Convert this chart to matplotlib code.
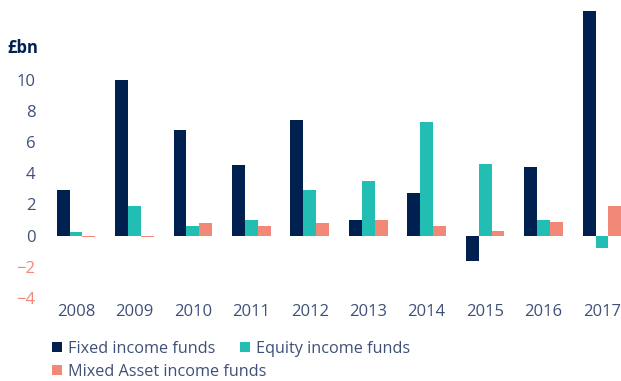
import numpy as np
import matplotlib
matplotlib.use("Agg")
import matplotlib.pyplot as plt

plt.rcParams["font.family"] = ["Open Sans", "DejaVu Sans"]

# Net retail sales of income funds, £bn
years = ["2008", "2009", "2010", "2011", "2012", "2013", "2014", "2015", "2016", "2017"]
fixed_income = [2.9, 10.0, 6.8, 4.5, 7.4, 1.0, 2.7, -1.6, 4.4, 14.4]
equity_income = [0.2, 1.9, 0.6, 1.0, 2.9, 3.5, 7.3, 4.6, 1.0, -0.8]
mixed_asset = [-0.1, -0.1, 0.8, 0.6, 0.8, 1.0, 0.6, 0.3, 0.9, 1.9]

navy = "#002050"
teal = "#22bdb3"
salmon = "#f28877"
text_col = "#3f5078"

fig = plt.figure(figsize=(6.21, 3.81), dpi=100)
ax = fig.add_axes([45 / 621, 1 - 298 / 381, (621 - 45) / 621, 287 / 381])

x = np.arange(len(years))
w = 0.22
b1 = ax.bar(x - w, fixed_income, w, color=navy, label="Fixed income funds")
b2 = ax.bar(x, equity_income, w, color=teal, label="Equity income funds")
b3 = ax.bar(x + w, mixed_asset, w, color=salmon, label="Mixed Asset income funds")

ax.set_xlim(-0.53, 9.325)
ax.set_ylim(-4, 14.4)
ax.set_yticks([-4, -2, 0, 2, 4, 6, 8, 10])
ax.set_xticks(x)
ax.set_xticklabels(years)
ax.tick_params(length=0, labelsize=12, colors=text_col)
ax.tick_params(axis="y", pad=7)
ax.tick_params(axis="x", pad=4)
for lbl, v in zip(ax.get_yticklabels(), ax.get_yticks()):
    if v < 0:
        lbl.set_color(salmon)

for s in ax.spines.values():
    s.set_visible(False)
ax.patch.set_alpha(0)

fig.text(7 / 621, 1 - 48 / 381, "£bn", fontsize=12, fontweight="bold",
         color=navy, va="center", ha="left")

# legend: two entries on the first row, one on the second
leg_kw = dict(loc="center left", frameon=False, fontsize=11.7, labelcolor=text_col,
              handlelength=0.6, handleheight=0.6, handletextpad=0.4,
              columnspacing=1.5, borderpad=0, borderaxespad=0)
fig.legend([b1, b2], ["Fixed income funds", "Equity income funds"], ncol=2,
           bbox_to_anchor=(52 / 621, 1 - 349 / 381), **leg_kw)
fig.legend([b3], ["Mixed Asset income funds"],
           bbox_to_anchor=(52 / 621, 1 - 372 / 381), **leg_kw)

fig.savefig("out.png", dpi=100)
